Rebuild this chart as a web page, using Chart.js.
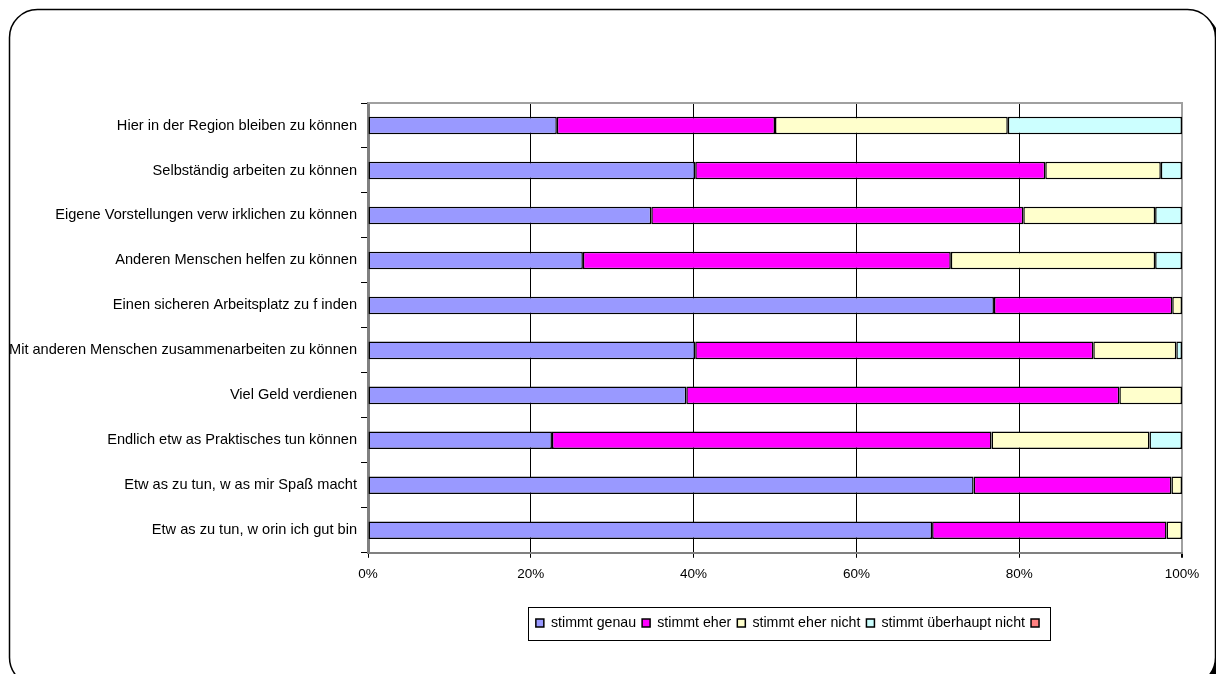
<!DOCTYPE html>
<html lang="de">
<head>
<meta charset="utf-8">
<title>Berufswahl – Zustimmung</title>
<script src="https://cdn.jsdelivr.net/npm/chart.js@4.4.1/dist/chart.umd.min.js"></script>
<style>
  html, body { margin: 0; padding: 0; background: #fff; }
  #wrap { width: 1216px; height: 674px; }
</style>
</head>
<body>
<div id="wrap"><canvas id="chart" width="1216" height="674"></canvas></div>
<script>
// categories, top to bottom
const categories = [
  "Hier in der Region bleiben zu können",
  "Selbständig arbeiten zu können",
  "Eigene Vorstellungen verw irklichen zu können",
  "Anderen Menschen helfen zu können",
  "Einen sicheren Arbeitsplatz zu f inden",
  "Mit anderen Menschen zusammenarbeiten zu können",
  "Viel Geld verdienen",
  "Endlich etw as Praktisches tun können",
  "Etw as zu tun, w as mir Spaß macht",
  "Etw as zu tun, w orin ich gut bin"
];

// shares in percent
const stimmtGenau        = [23.2, 40.2, 34.8, 26.4, 76.9, 40.2, 39.1, 22.6, 74.4, 69.3];
const stimmtEher         = [26.8, 43.0, 45.7, 45.2, 21.9, 48.9, 53.2, 54.0, 24.3, 28.8];
const stimmtEherNicht    = [28.6, 14.2, 16.2, 25.1,  1.2, 10.2,  7.7, 19.4,  1.3,  1.9];
const stimmtUeberhaupt   = [21.4,  2.6,  3.3,  3.3,  0.0,  0.7,  0.0,  4.0,  0.0,  0.0];
const keineAngabe        = [0, 0, 0, 0, 0, 0, 0, 0, 0, 0];

const seriesNames = ["stimmt genau", "stimmt eher", "stimmt eher nicht", "stimmt überhaupt nicht", ""];
const seriesColors = ["#9999FF", "#FF00FF", "#FFFFCC", "#CCFFFF", "#FF8080"];
const xTicks = [0, 20, 40, 60, 80, 100];

const FONT = "'Liberation Sans', Arial, sans-serif";

// rounded frame with a dark shadow behind the whole chart
const framePlugin = {
  id: 'frame',
  beforeDraw(chart) {
    const ctx = chart.ctx;
    const rr = (x, y, w, h, r) => {
      ctx.beginPath();
      ctx.moveTo(x + r, y);
      ctx.arcTo(x + w, y, x + w, y + h, r);
      ctx.arcTo(x + w, y + h, x, y + h, r);
      ctx.arcTo(x, y + h, x, y, r);
      ctx.arcTo(x, y, x + w, y, r);
      ctx.closePath();
    };
    ctx.save();
    rr(13.5, 13.5, 1206, 676, 28);
    ctx.fillStyle = '#000';
    ctx.fill();
    rr(9.5, 9.5, 1206, 676, 28);
    ctx.fillStyle = '#fff';
    ctx.fill();
    ctx.lineWidth = 1.5;
    ctx.strokeStyle = '#000';
    ctx.stroke();
    ctx.restore();
  }
};

// grey top edge of the plot area
const plotEdgePlugin = {
  id: 'plotEdge',
  beforeDatasetsDraw(chart) {
    const {ctx, chartArea: a} = chart;
    ctx.save();
    ctx.strokeStyle = '#a0a0a0';
    ctx.lineWidth = 2;
    ctx.beginPath();
    ctx.moveTo(a.left, a.top);
    ctx.lineTo(a.right + 1, a.top);
    ctx.stroke();
    ctx.restore();
  }
};

// legend sits a bit right of the plot centre; box drawn round its entries
const legendBoxPlugin = {
  id: 'legendBox',
  afterLayout(chart) {
    const lg = chart.legend;
    if (!lg) return;
    lg.left += 16;
    lg.right += 16;
  },
  afterDraw(chart) {
    const lg = chart.legend;
    if (!lg || !lg.legendHitBoxes || !lg.legendHitBoxes.length) return;
    const hb = lg.legendHitBoxes;
    const first = hb[0], last = hb[hb.length - 1];
    const x0 = Math.round(first.left) - 7.5;
    const x1 = Math.round(last.left + last.width) + 4.5;
    const cy = first.top + first.height / 2;
    const ctx = chart.ctx;
    ctx.save();
    ctx.strokeStyle = '#000';
    ctx.lineWidth = 1;
    ctx.strokeRect(x0, Math.round(cy - 16) + 0.5, x1 - x0, 33);
    ctx.restore();
  }
};

const datasets = [stimmtGenau, stimmtEher, stimmtEherNicht, stimmtUeberhaupt, keineAngabe].map((d, i) => ({
  label: seriesNames[i],
  data: d,
  backgroundColor: seriesColors[i],
  borderColor: '#000',
  borderWidth: 1.5,
  borderSkipped: false,
  barPercentage: 0.39,
  categoryPercentage: 1.0
}));

new Chart(document.getElementById('chart'), {
  type: 'bar',
  data: { labels: categories, datasets },
  options: {
    indexAxis: 'y',
    responsive: false,
    animation: false,
    layout: { padding: { top: 103, right: 34, bottom: 34, left: 0 } },
    scales: {
      x: {
        stacked: true,
        min: 0,
        max: 100,
        afterBuildTicks(scale) { scale.ticks = xTicks.map(v => ({ value: v })); },
        afterFit(scale) { scale.height = 57; },
        border: { color: '#808080', width: 2 },
        grid: {
          color: c => c.tick && c.tick.value === 100 ? '#a0a0a0' : (c.tick && c.tick.value === 0 ? 'rgba(0,0,0,0)' : '#000'),
          lineWidth: c => c.tick && c.tick.value === 100 ? 2 : 1,
          tickColor: '#000',
          tickLength: 5
        },
        ticks: {
          color: '#000',
          padding: 8,
          font: { family: FONT, size: 13.5 },
          callback: v => v + '%'
        }
      },
      y: {
        stacked: true,
        afterFit(scale) { scale.width = 368; },
        border: { color: '#808080', width: 3 },
        grid: { drawOnChartArea: false, tickLength: 7, color: '#000', offset: true },
        ticks: {
          color: '#000',
          padding: 4,
          font: { family: FONT, size: 14.6 }
        }
      }
    },
    plugins: {
      legend: {
        position: 'bottom',
        fullSize: false,
        labels: {
          boxWidth: 8,
          boxHeight: 8,
          padding: 6,
          color: '#000',
          font: { family: FONT, size: 14.2 }
        }
      },
      tooltip: { enabled: false }
    }
  },
  plugins: [framePlugin, plotEdgePlugin, legendBoxPlugin]
});
</script>
</body>
</html>
